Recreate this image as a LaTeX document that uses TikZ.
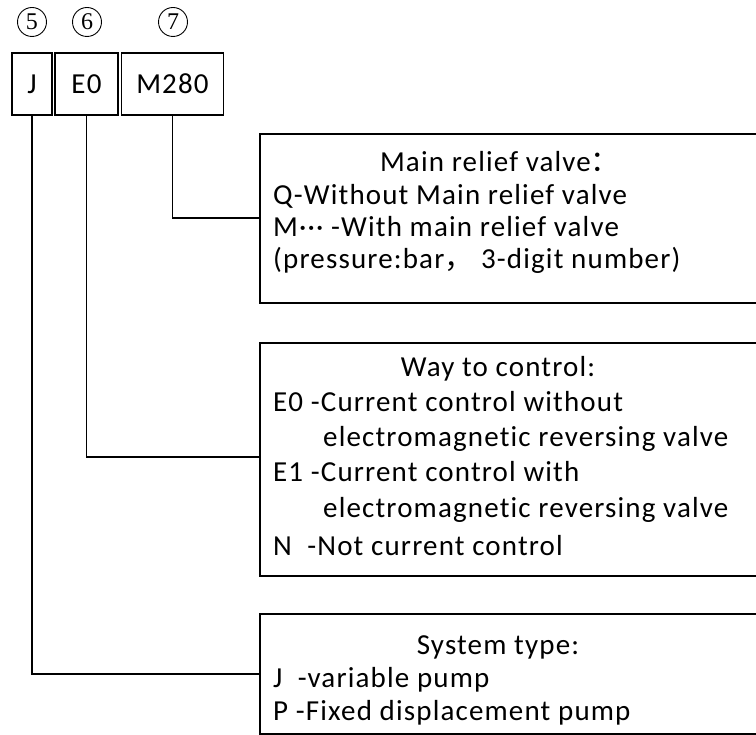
\documentclass[tikz,border=0pt]{standalone}
\usepackage{fontspec}
\setmainfont{Carlito}[LetterSpace=4, Ligatures=NoCommon]
\newfontfamily\cjk{Noto Sans CJK SC}
\newfontfamily\numfont{Liberation Serif}
\usetikzlibrary{positioning}

\tikzset{
  codebox/.style={draw, line width=1.6pt, inner sep=0pt, minimum height=62pt, font=\fontsize{29}{30}\selectfont},
  circnum/.style={circle, draw, line width=0.9pt, minimum size=29pt, inner sep=0pt, font=\numfont\fontsize{24}{24}\selectfont},
  descbox/.style={draw, line width=1.6pt, inner sep=0pt, anchor=north west, minimum width=520pt},
  dline/.style={font=\fontsize{29}{30}\selectfont, inner sep=0pt, anchor=base west},
  dtitle/.style={font=\fontsize{29}{30}\selectfont, inner sep=0pt, anchor=base},
  link/.style={line width=1.6pt},
}

\begin{document}
\begin{tikzpicture}[x=1pt,y=-1pt]
\clip (0,0) rectangle (756,735);
\fill [white] (0,0) rectangle (756,735);
% code boxes
\node [codebox, minimum width=40pt]  (jbox) at (32,84)    {J};
\node [codebox, minimum width=63pt]  (ebox) at (86.5,84)  {E0};
\node [codebox, minimum width=102pt] (mbox) at (172.5,84) {M280};
\node [circnum] (num5) at (32,22)    {5};
\node [circnum] (num6) at (87,22)    {6};
\node [circnum] (num7) at (173,22)   {7};
% main relief valve
\node [descbox, minimum height=169pt] (relief) at (259,133) {};
\node [dtitle] (reliefttl) at (500,172) {Main relief valve{\cjk ：}};
\node [dline] (relief1) at (273,205) {Q-Without Main relief valve};
\node [dline] (relief2) at (273,237) {M··· -With main relief valve};
\node [dline] (relief3) at (273,269) {(pressure:bar{\cjk ，} 3-digit number)};
% way to control
\node [descbox, minimum height=233pt] (ctrl) at (259,342) {};
\node [dtitle] (ctrlttl) at (498,377) {Way to control:};
\node [dline] (ctrl1) at (273,412) {E0 -Current control without};
\node [dline] (ctrl2) at (323,447) {electromagnetic reversing valve};
\node [dline] (ctrl3) at (273,482) {E1 -Current control with};
\node [dline] (ctrl4) at (323,518) {electromagnetic reversing valve};
\node [dline] (ctrl5) at (273,555) {N\ \ -Not current control};
% system type
\node [descbox, minimum height=120pt] (sys) at (259,613) {};
\node [dtitle] (systtl) at (498,654) {System type:};
\node [dline] (sys1) at (273,687) {J\ \ -variable pump};
\node [dline] (sys2) at (273,720) {P -Fixed displacement pump};
% connectors
\draw [link] (mbox.south) |- (relief.west |- 0,218);
\draw [link] (ebox.south) |- (ctrl.west |- 0,457);
\draw [link] (jbox.south) |- (sys.west |- 0,674);
\end{tikzpicture}
\end{document}
